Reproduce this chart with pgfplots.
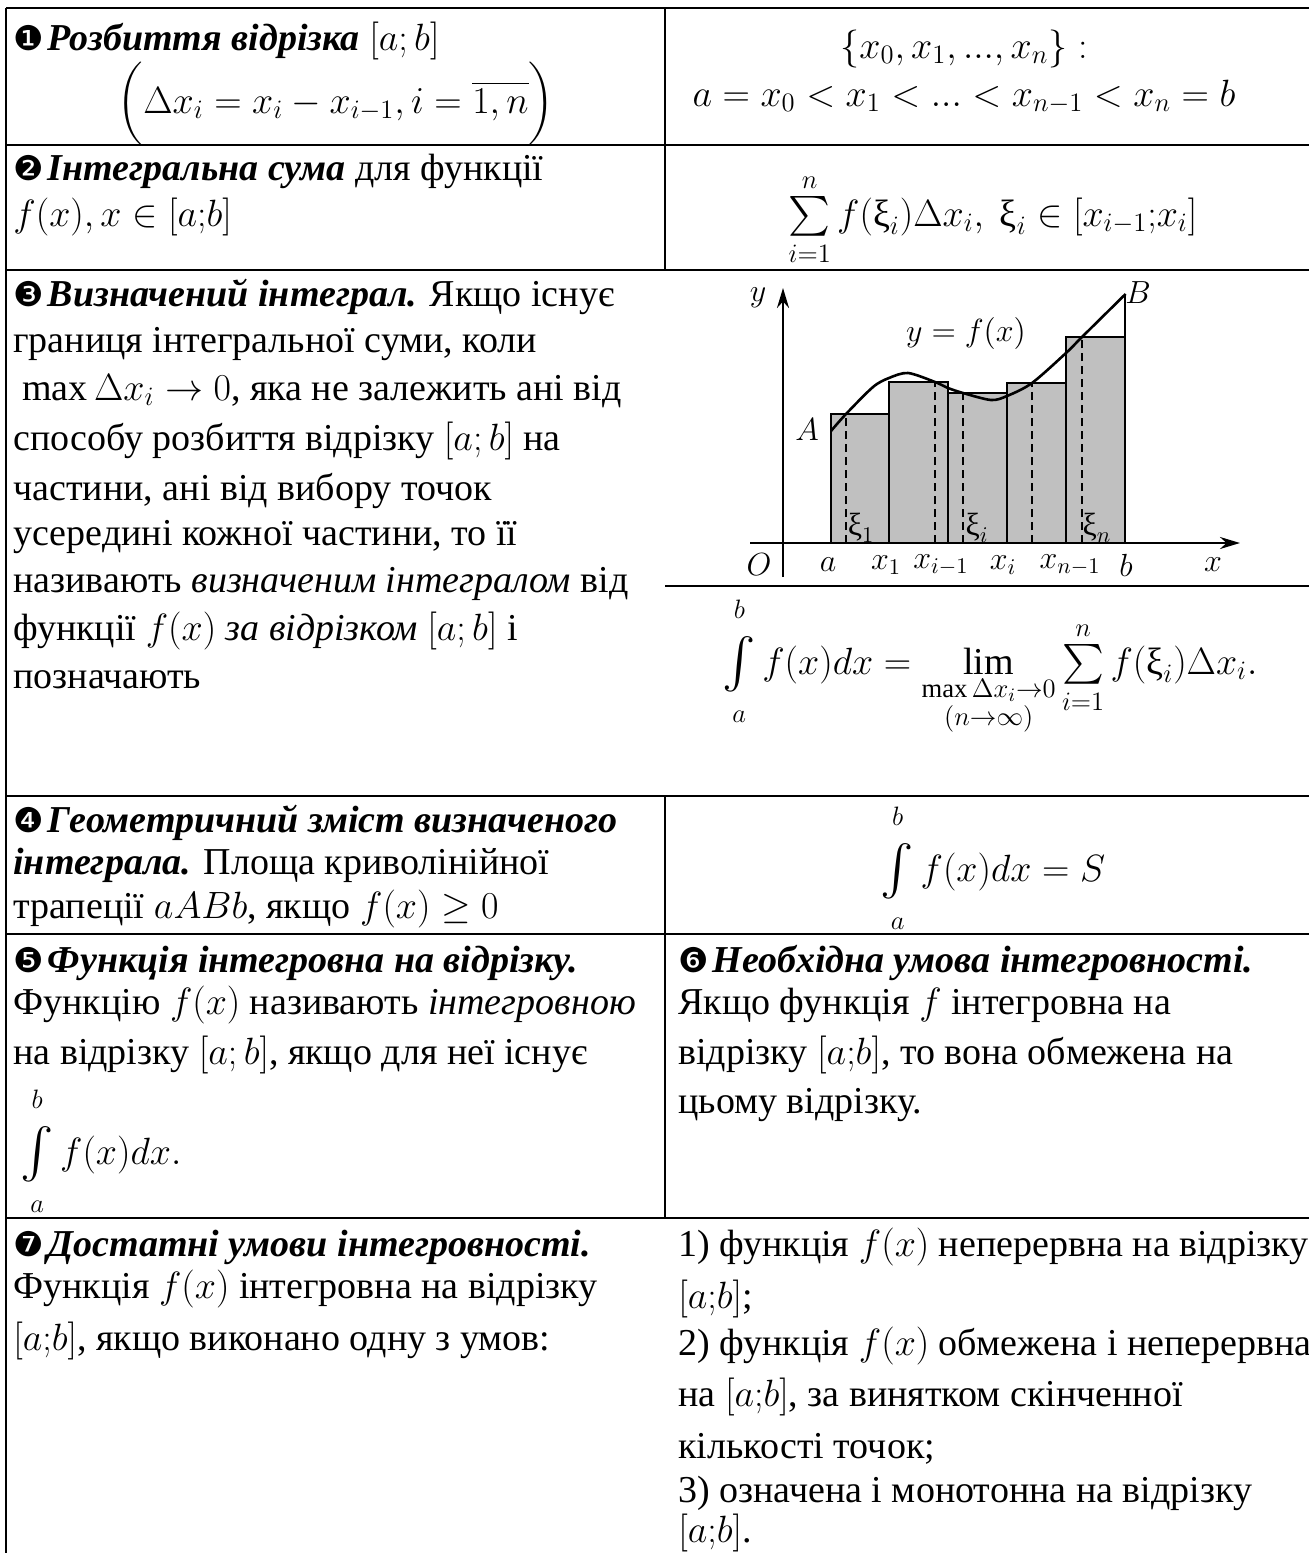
\RequirePackage{fix-cm}
\documentclass[border=0pt]{standalone}
\usepackage{amsmath}
\usepackage{fontspec}
\setmainfont{Liberation Serif}
\newfontfamily\dingf{DejaVu Sans}
\usepackage{graphicx}
\usepackage{pgfplots}
\pgfplotsset{compat=1.18}
\usetikzlibrary{arrows.meta}
\definecolor{barg}{RGB}{192,192,192}
\newcommand{\nm}[1]{{\dingf\fontsize{17}{17}\selectfont #1}\kern2pt}
\newcommand{\bi}[1]{\textbf{\textit{#1}}}
\newcommand{\xii}{\mbox{ξ}}
\newcommand{\mf}{\fontsize{19}{23}\selectfont}
\newcommand{\lf}{\fontsize{16}{19}\selectfont}
\newcommand{\myint}[2]{\mathop{\vcenter{\hbox{\scalebox{1.45}{$\textstyle\int$}}}}\limits_{\rule{0pt}{12pt}#1}^{#2\rule[-7pt]{0pt}{7pt}}}
\newcommand{\mysum}[2]{\mathop{\vcenter{\hbox{\scalebox{1.15}{$\textstyle\sum$}}}}\limits_{\rule{0pt}{10pt}#1}^{#2\rule[-2pt]{0pt}{2pt}}}
\begin{document}
\begin{tikzpicture}
\begin{scope}[x=0.5pt,y=-0.5pt]
\useasboundingbox (0,0) rectangle (1309,1553);
\tikzset{t/.style={anchor=base west,inner sep=0pt,font=\mf},
         c/.style={anchor=base,inner sep=0pt,font=\mf}}
% table rules
\draw[line width=1.4pt] (6,8) -- (1309,8);
\draw[line width=1.4pt] (6,8) -- (6,1553);
\draw[line width=1.4pt] (665,8) -- (665,270);
\draw[line width=1.4pt] (665,796) -- (665,1218);
\draw[line width=1.4pt] (6,145) -- (1309,145);
\draw[line width=1.4pt] (6,270) -- (1309,270);
\draw[line width=1.4pt] (665,586) -- (1309,586);
\draw[line width=1.4pt] (6,796) -- (1309,796);
\draw[line width=1.4pt] (6,934) -- (1309,934);
\draw[line width=1.4pt] (6,1218) -- (1309,1218);
% row 1
\node[t] at (13,50) {\nm{❶}\bi{Розбиття відрізка} $[a;b]$};
\node[c] at (336,113) {$\biggl(\Delta x_i = x_i - x_{i-1}, i=\overline{1,n}\biggr)$};
\node[c] at (964,58) {$\{x_0, x_1, ..., x_n\}:$};
\node[c] at (964,106) {$a = x_0 < x_1 < ... < x_{n-1} < x_n = b$};
% row 2
\node[t] at (13,180) {\nm{❷}\bi{Інтегральна сума} для функції};
\node[t] at (13,226) {$f(x), x\in[a{;}b]$};
\node[c] at (993,226) {$\mysum{i=1}{n} f(\xii_i)\Delta x_i,\ \xii_i\in[x_{i-1}{;}x_i]$};
% row 3
\node[t] at (13,306) {\nm{❸}\bi{Визначений інтеграл.} Якщо існує};
\node[t] at (13,352) {границя інтегральної суми, коли};
\node[t] at (22,400) {$\max\Delta x_i\to 0$, яка не залежить ані від};
\node[t] at (13,450) {способу розбиття відрізку $[a;b]$ на};
\node[t] at (13,500) {частини, ані від вибору точок};
\node[t] at (13,545) {усередині кожної частини, то її};
\node[t] at (13,592) {називають \textit{визначеним інтегралом} від};
\node[t] at (13,640) {функції $f(x)$ \textit{за відрізком} $[a;b]$ і};
\node[t] at (13,688) {позначають};
\node[c] at (990,674) {$\myint{a}{b} f(x)dx = \lim\limits_{\substack{\max\Delta x_i\to0\\(n\to\infty)}} \mysum{i=1}{n} f(\xii_i)\Delta x_i.$};
% row 4
\node[t] at (13,832) {\nm{❹}\bi{Геометричний зміст визначеного}};
\node[t] at (13,874) {\bi{інтеграла.} Площа криволінійної};
\node[t] at (13,918) {трапеції $aABb$, якщо $f(x)\geq 0$};
\node[c] at (993,881) {$\myint{a}{b} f(x)dx = S$};
% row 5 / 6
\node[t] at (13,972) {\nm{❺}\bi{Функція інтегровна на відрізку.}};
\node[t] at (13,1014) {Функцію $f(x)$ називають \textit{інтегровною}};
\node[t] at (13,1064) {на відрізку $[a;b]$, якщо для неї існує};
\node[t] at (20,1164) {$\myint{a}{b} f(x)dx.$};
\node[t] at (678,972) {\nm{❻}\bi{Необхідна умова інтегровності.}};
\node[t] at (678,1014) {Якщо функція $f$ інтегровна на};
\node[t] at (678,1064) {відрізку $[a{;}b]$, то вона обмежена на};
\node[t] at (678,1113) {цьому відрізку.};
% row 7
\node[t] at (13,1256) {\nm{❼}\bi{Достатні умови інтегровності.}};
\node[t] at (13,1298) {Функція $f(x)$ інтегровна на відрізку};
\node[t] at (13,1350) {$[a{;}b]$, якщо виконано одну з умов:};
\node[t] at (678,1256) {1) функція $f(x)$ неперервна на відрізку};
\node[t] at (678,1308) {$[a{;}b]$;};
\node[t] at (678,1355) {2) функція $f(x)$ обмежена і неперервна};
\node[t] at (678,1406) {на $[a{;}b]$, за винятком скінченної};
\node[t] at (678,1458) {кількості точок;};
\node[t] at (678,1502) {3) означена і монотонна на відрізку};
\node[t] at (678,1542) {$[a{;}b]$.};
\end{scope}
% chart
\begin{axis}[
  at={(375pt,-288.5pt)}, anchor=south west,
  x=0.5pt, y=0.5pt,
  xmin=-33, xmax=457, ymin=-34, ymax=255,
  enlargelimits=false,
  axis lines=middle,
  axis line style={line width=1.2pt, -{Stealth[length=10pt,width=6pt]}},
  xtick=\empty, ytick=\empty,
  clip=false,
]
\addplot[ybar interval, fill=barg, draw=black, line width=1pt] coordinates {(48,129) (106,161) (165,150) (224,160) (283,206) (342,206)};
\addplot[ycomb, mark=none, line width=0.8pt, dash pattern=on 4pt off 2.5pt] coordinates {(63,129) (152,161) (180,150) (249,160) (299,206)};
\addplot[line width=0.6pt] coordinates {(342,206) (342,249)};
\addplot[smooth, line width=1.3pt] coordinates {(48,112) (63,129) (90,156) (106,165) (125,170) (152,161) (165,155) (180,150) (208,143) (224,147) (249,160) (283,190) (299,206) (342.6,249)};
\node[font=\lf] at (axis cs:-25,245) {$y$};
\node[font=\lf] at (axis cs:355,250) {$B$};
\node[font=\lf] at (axis cs:183,210) {$y = f(x)$};
\node[font=\lf] at (axis cs:24,113) {$A$};
\node[font=\lf] at (axis cs:78,15) {$\xii_1$};
\node[font=\lf] at (axis cs:194,15) {$\xii_i$};
\node[font=\lf] at (axis cs:314,15) {$\xii_n$};
\node[font=\lf] at (axis cs:-24,-22) {$O$};
\node[font=\lf] at (axis cs:45,-22) {$a$};
\node[font=\lf] at (axis cs:103,-22) {$x_1$};
\node[font=\lf] at (axis cs:158,-22) {$x_{i-1}$};
\node[font=\lf] at (axis cs:220,-22) {$x_i$};
\node[font=\lf] at (axis cs:287,-22) {$x_{n-1}$};
\node[font=\lf] at (axis cs:343,-22) {$b$};
\node[font=\lf] at (axis cs:430,-22) {$x$};
\end{axis}
\end{tikzpicture}
\end{document}
